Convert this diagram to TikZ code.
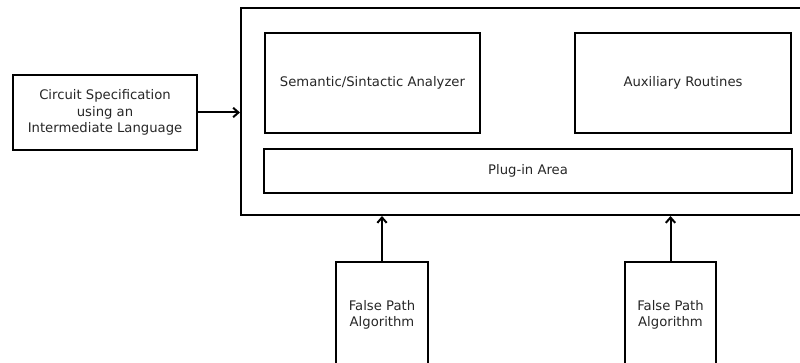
\documentclass[tikz,border=0pt]{standalone}
\usepackage{fontspec}
\setmainfont{DejaVu Sans}
\usetikzlibrary{arrows.meta,positioning}
\tikzset{box/.style={rectangle,draw=black,line width=1.5pt,inner sep=0pt,align=center,
  font=\fontsize{9.9}{12.4}\selectfont,text=black!85}}
\tikzset{flow/.style={-{Straight Barb[length=4pt,width=7pt]},line width=1.5pt}}

\begin{document}
\begin{tikzpicture}[x=0.75pt,y=-0.75pt]
\useasboundingbox (0,0) rectangle (800,363);
\clip (0,0) rectangle (800,363);
% \draw[help lines,step=50] (0,0) grid (800,363);
\node (core) [box,minimum width=441.75pt,minimum height=155.25pt] at (535.5,111.5) {};
\node (parser) [box,minimum width=161.25pt,minimum height=75pt] at (372.5,83) {Semantic/Sintactic Analyzer};
\node (aux) [box,minimum width=162pt,minimum height=75pt] at (683,83) {Auxiliary Routines};
\node (plugin) [box,minimum width=396pt,minimum height=33pt] at (528,171) {Plug-in Area};
\node (spec) [box,minimum width=138pt,minimum height=56.25pt] at (105,112.5) {Circuit Specification\\using an\\Intermediate Language};
\node (fpa) [box,minimum width=69pt,minimum height=79.5pt] at (382,315) {False Path\\Algorithm};
\node (fpb) [box,minimum width=68.25pt,minimum height=79.5pt] at (670.5,315) {False Path\\Algorithm};
%
\path[flow](spec) edge (core.west |- spec);
\path[flow](fpa.north) edge (fpa |- core.south);
\path[flow](fpb.north) edge (fpb |- core.south);
\end{tikzpicture}
\end{document}
